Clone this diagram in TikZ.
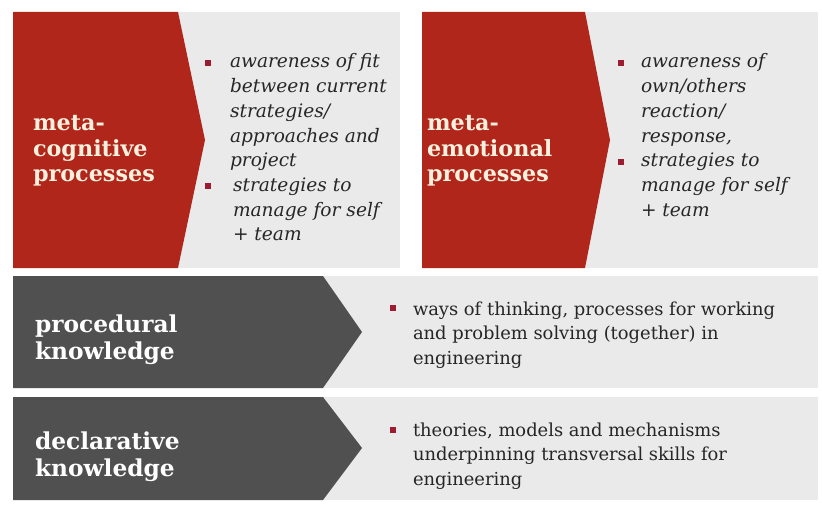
\documentclass[tikz,border=0pt]{standalone}
\usepackage{fontspec}
\setmainfont{DejaVu Serif}

\definecolor{metared}{RGB}{176,38,26}
\definecolor{knowgrey}{RGB}{80,80,80}
\definecolor{panelgrey}{RGB}{234,234,234}
\definecolor{dotred}{RGB}{158,28,50}
\definecolor{cream}{RGB}{250,240,222}

\begin{document}
\begin{tikzpicture}[x={(1pt,0pt)},y={(0pt,-1pt)},
  every node/.style={inner sep=0pt, outer sep=0pt},
  metahead/.style={anchor=base west, align=left, text=cream, font=\fontsize{22.3}{25.5}\selectfont\bfseries},
  knowhead/.style={anchor=base west, align=left, text=white, font=\fontsize{23.3}{27}\selectfont\bfseries},
  metaitem/.style={anchor=base west, align=left, text=black!85, font=\fontsize{18.6}{24.7}\selectfont\itshape},
  knowitem/.style={anchor=base west, align=left, text=black!85, font=\fontsize{17.9}{24.5}\selectfont},
  dot/.style={fill=dotred, minimum size=6pt}]

\useasboundingbox (0,0) rectangle (822,505);

\fill[panelgrey] (178,12) rectangle (400,268);
\fill[panelgrey] (585,12) rectangle (818,268);
\fill[panelgrey] (323,276) rectangle (818,388);
\fill[panelgrey] (323,397) rectangle (818,500);

\fill[metared] (13,12) -- (178,12) -- (205,140) -- (178,268) -- (13,268) -- cycle;
\fill[metared] (422,12) -- (585,12) -- (610,140) -- (585,268) -- (422,268) -- cycle;
\fill[knowgrey] (13,276) -- (323,276) -- (362,332) -- (323,388) -- (13,388) -- cycle;
\fill[knowgrey] (13,397) -- (323,397) -- (362,448) -- (323,500) -- (13,500) -- cycle;

% multi-line nodes sit on the baseline of their last line
\node[metahead] (cog) at (33,182) {meta-\\cognitive\\processes};
\node[metahead] (emo) at (427,182) {meta-\\emotional\\processes};
\node[knowhead] (proc) at (35,359) {procedural\\knowledge};
\node[knowhead] (decl) at (35,476) {declarative\\knowledge};

\node[dot] (cogdotA) at (208,63) {};
\node[metaitem] (cogA) at (230,166.8) {awareness of fit\\between current\\strategies/\\approaches and\\project};
\node[dot] (cogdotB) at (208,186) {};
\node[metaitem] (cogB) at (233,240.9) {strategies to\\manage for self\\+ team};

\node[dot] (emodotA) at (621,63) {};
\node[metaitem] (emoA) at (641,142.1) {awareness of\\own/others\\reaction/\\response,};
\node[dot] (emodotB) at (621,162) {};
\node[metaitem] (emoB) at (641,216.4) {strategies to\\manage for self\\+ team};

\node[dot] (procdot) at (393,308) {};
\node[knowitem] (procA) at (413,364) {ways of thinking, processes for working\\and problem solving (together) in\\engineering};
\node[dot] (decldot) at (393,430) {};
\node[knowitem] (declA) at (413,485) {theories, models and mechanisms\\underpinning transversal skills for\\engineering};
\end{tikzpicture}
\end{document}
